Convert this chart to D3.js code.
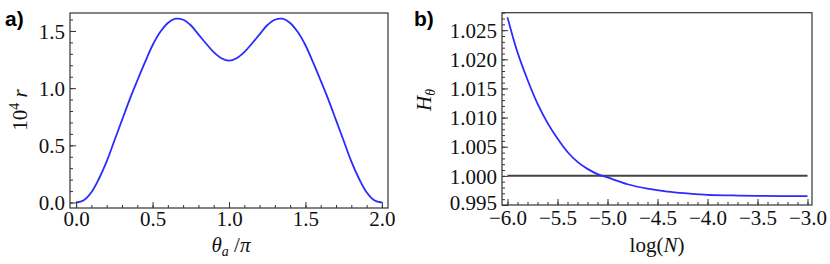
<!DOCTYPE html>
<html>
<head>
<meta charset="utf-8">
<script src="https://cdn.jsdelivr.net/npm/d3@7"></script>
<style>
  html, body { margin: 0; padding: 0; background: #fff; }
  svg { display: block; }
  .tick text { font-family: "Liberation Serif", "Times New Roman", serif; font-size: 21px; fill: #111; }
  .lbl { font-family: "Liberation Serif", "Times New Roman", serif; font-size: 21px; fill: #111; }
  .panel { font-family: "Liberation Sans", Arial, sans-serif; font-size: 21px; font-weight: bold; fill: #000; }
</style>
</head>
<body>
<svg id="chart" width="830" height="264"></svg>
<script>
// panel a: 10^4 r against theta_a / pi
const thetaA = [0, 0.05, 0.1, 0.15, 0.2, 0.25, 0.3, 0.35, 0.4, 0.45, 0.5, 0.55, 0.6, 0.65, 0.7, 0.75, 0.8, 0.85, 0.9, 0.95, 1.0,
  1.05, 1.1, 1.15, 1.2, 1.25, 1.3, 1.35, 1.4, 1.45, 1.5, 1.55, 1.6, 1.65, 1.7, 1.75, 1.8, 1.85, 1.9, 1.95, 2.0];
const rA = [0, 0.02, 0.09, 0.21, 0.36, 0.54, 0.72, 0.9, 1.065, 1.225, 1.375, 1.49, 1.57, 1.607, 1.598, 1.55, 1.47, 1.39, 1.315, 1.262, 1.24,
  1.262, 1.315, 1.39, 1.47, 1.55, 1.598, 1.607, 1.57, 1.49, 1.375, 1.225, 1.065, 0.9, 0.72, 0.54, 0.36, 0.21, 0.09, 0.02, 0];
const xTicksA = [0, 0.5, 1.0, 1.5, 2.0];
const yTicksA = [0, 0.5, 1.0, 1.5];

// panel b: H_theta against log(N)
const logN = [-6.0, -5.9, -5.8, -5.7, -5.6, -5.5, -5.4, -5.3, -5.2, -5.1, -5.0, -4.8, -4.6, -4.4, -4.2, -4.0, -3.75, -3.5, -3.25, -3.0];
const hB = [1.0272, 1.0212, 1.0165, 1.0124, 1.0091, 1.0064, 1.0041, 1.0024, 1.0012, 1.0003, 0.99973, 0.99856, 0.9978, 0.99729, 0.99698,
  0.99674, 0.99664, 0.99656, 0.99653, 0.99652];
const refLevel = 1.0;
const xTicksB = [-6.0, -5.5, -5.0, -4.5, -4.0, -3.5, -3.0];
const yTicksB = [0.995, 1.000, 1.005, 1.010, 1.015, 1.020, 1.025];

const svg = d3.select('#chart');
const frameColor = '#333';

function drawFrame(g, x, y, opts) {
  const [x0, x1] = x.range();
  const [y0, y1] = y.range();

  // minor + major ticks, pointing into the frame
  const bottomMinor = d3.axisBottom(x).tickValues(opts.xMinor).tickSize(-3).tickFormat('');
  const leftMinor = d3.axisLeft(y).tickValues(opts.yMinor).tickSize(-3).tickFormat('');
  g.append('g').attr('transform', `translate(0,${y0})`).call(bottomMinor);
  g.append('g').attr('transform', `translate(${x0},0)`).call(leftMinor);

  const bottom = g.append('g').attr('transform', `translate(0,${y0})`)
    .call(d3.axisBottom(x).tickValues(opts.xTicks).tickSize(-6).tickFormat(opts.xFmt));
  bottom.selectAll('text').attr('y', opts.xLabelY || 18).attr('dy', null);

  const left = g.append('g').attr('transform', `translate(${x0},0)`)
    .call(d3.axisLeft(y).tickValues(opts.yTicks).tickSize(-6).tickFormat(opts.yFmt));
  left.selectAll('text').attr('x', -5).attr('dy', '0.34em');
  // lowest label sits a touch higher so it clears the first x label
  left.selectAll('text').filter((d, i) => i === 0 && opts.liftFirst).attr('dy', '0.22em');

  g.selectAll('.domain').remove();
  g.selectAll('.tick line').attr('stroke', frameColor);

  g.append('rect')
    .attr('x', x0).attr('y', y1)
    .attr('width', x1 - x0).attr('height', y0 - y1)
    .attr('fill', 'none').attr('stroke', frameColor).attr('stroke-width', 1.2);
}

function range(a, b, step) {
  const out = [];
  const n = Math.round((b - a) / step);
  for (let i = 0; i <= n; i++) out.push(+(a + i * step).toFixed(6));
  return out;
}

// ---------- panel a ----------
const xA = d3.scaleLinear().domain([-0.04, 2.04]).range([70, 388]);
const yA = d3.scaleLinear().domain([-0.048, 1.657]).range([208, 13]);
const gA = svg.append('g');

svg.append('clipPath').attr('id', 'clipA').append('rect')
  .attr('x', 70).attr('y', 13).attr('width', 318).attr('height', 195);

gA.append('path')
  .datum(thetaA.map((t, i) => [t, rA[i]]))
  .attr('clip-path', 'url(#clipA)')
  .attr('fill', 'none')
  .attr('stroke', '#2b2bff')
  .attr('stroke-width', 1.8)
  .attr('d', d3.line().x(d => xA(d[0])).y(d => yA(d[1])).curve(d3.curveCatmullRom.alpha(0.5)));

drawFrame(gA, xA, yA, {
  xTicks: xTicksA, xMinor: range(0, 2, 0.1), xFmt: d3.format('.1f'),
  yTicks: yTicksA, yMinor: range(0, 1.6, 0.1), yFmt: d3.format('.1f')
});

gA.append('text').attr('class', 'panel').attr('x', 5).attr('y', 26).text('a)');

const xlA = gA.append('text').attr('class', 'lbl').attr('x', 231).attr('y', 252).attr('text-anchor', 'middle');
xlA.append('tspan').attr('font-style', 'italic').text('θ');
xlA.append('tspan').attr('font-style', 'italic').attr('font-size', 14).attr('dy', 4).text('a');
xlA.append('tspan').attr('dy', -4).text(' /');
xlA.append('tspan').attr('font-style', 'italic').text('π');

const ylA = gA.append('text').attr('class', 'lbl')
  .attr('transform', 'translate(27,110) rotate(-90)').attr('text-anchor', 'middle');
ylA.append('tspan').text('10');
ylA.append('tspan').attr('font-size', 14).attr('dy', -8).text('4');
ylA.append('tspan').attr('dy', 8).attr('font-style', 'italic').text(' r');

// ---------- panel b ----------
const xB = d3.scaleLinear().domain([-6.055, -2.955]).range([502, 812]);
const yB = d3.scaleLinear().domain([0.995, 1.028]).range([205, 12.7]);
const gB = svg.append('g');

svg.append('clipPath').attr('id', 'clipB').append('rect')
  .attr('x', 502).attr('y', 12.7).attr('width', 310).attr('height', 192.3);

gB.append('line')
  .attr('x1', xB(logN[0])).attr('x2', xB(logN[logN.length - 1]))
  .attr('y1', yB(refLevel)).attr('y2', yB(refLevel))
  .attr('stroke', '#444').attr('stroke-width', 2);

gB.append('path')
  .datum(logN.map((t, i) => [t, hB[i]]))
  .attr('clip-path', 'url(#clipB)')
  .attr('fill', 'none')
  .attr('stroke', '#2b2bff')
  .attr('stroke-width', 1.8)
  .attr('d', d3.line().x(d => xB(d[0])).y(d => yB(d[1])).curve(d3.curveCatmullRom.alpha(0.5)));

drawFrame(gB, xB, yB, {
  xTicks: xTicksB, xMinor: range(-6, -3, 0.1), xFmt: d3.format('.1f'), xLabelY: 19.5,
  yTicks: yTicksB, yMinor: range(0.995, 1.028, 0.001), yFmt: d3.format('.3f'), liftFirst: true
});

gB.append('text').attr('class', 'panel').attr('x', 414).attr('y', 26).text('b)');

const xlB = gB.append('text').attr('class', 'lbl').attr('x', 657).attr('y', 252).attr('text-anchor', 'middle');
xlB.append('tspan').text('log(');
xlB.append('tspan').attr('font-style', 'italic').text('N');
xlB.append('tspan').text(')');

const ylB = gB.append('text').attr('class', 'lbl')
  .attr('transform', 'translate(431,100) rotate(-90)').attr('text-anchor', 'middle');
ylB.append('tspan').attr('font-style', 'italic').text('H');
ylB.append('tspan').attr('font-style', 'italic').attr('font-size', 14).attr('dy', 4).text('θ');
</script>
</body>
</html>
